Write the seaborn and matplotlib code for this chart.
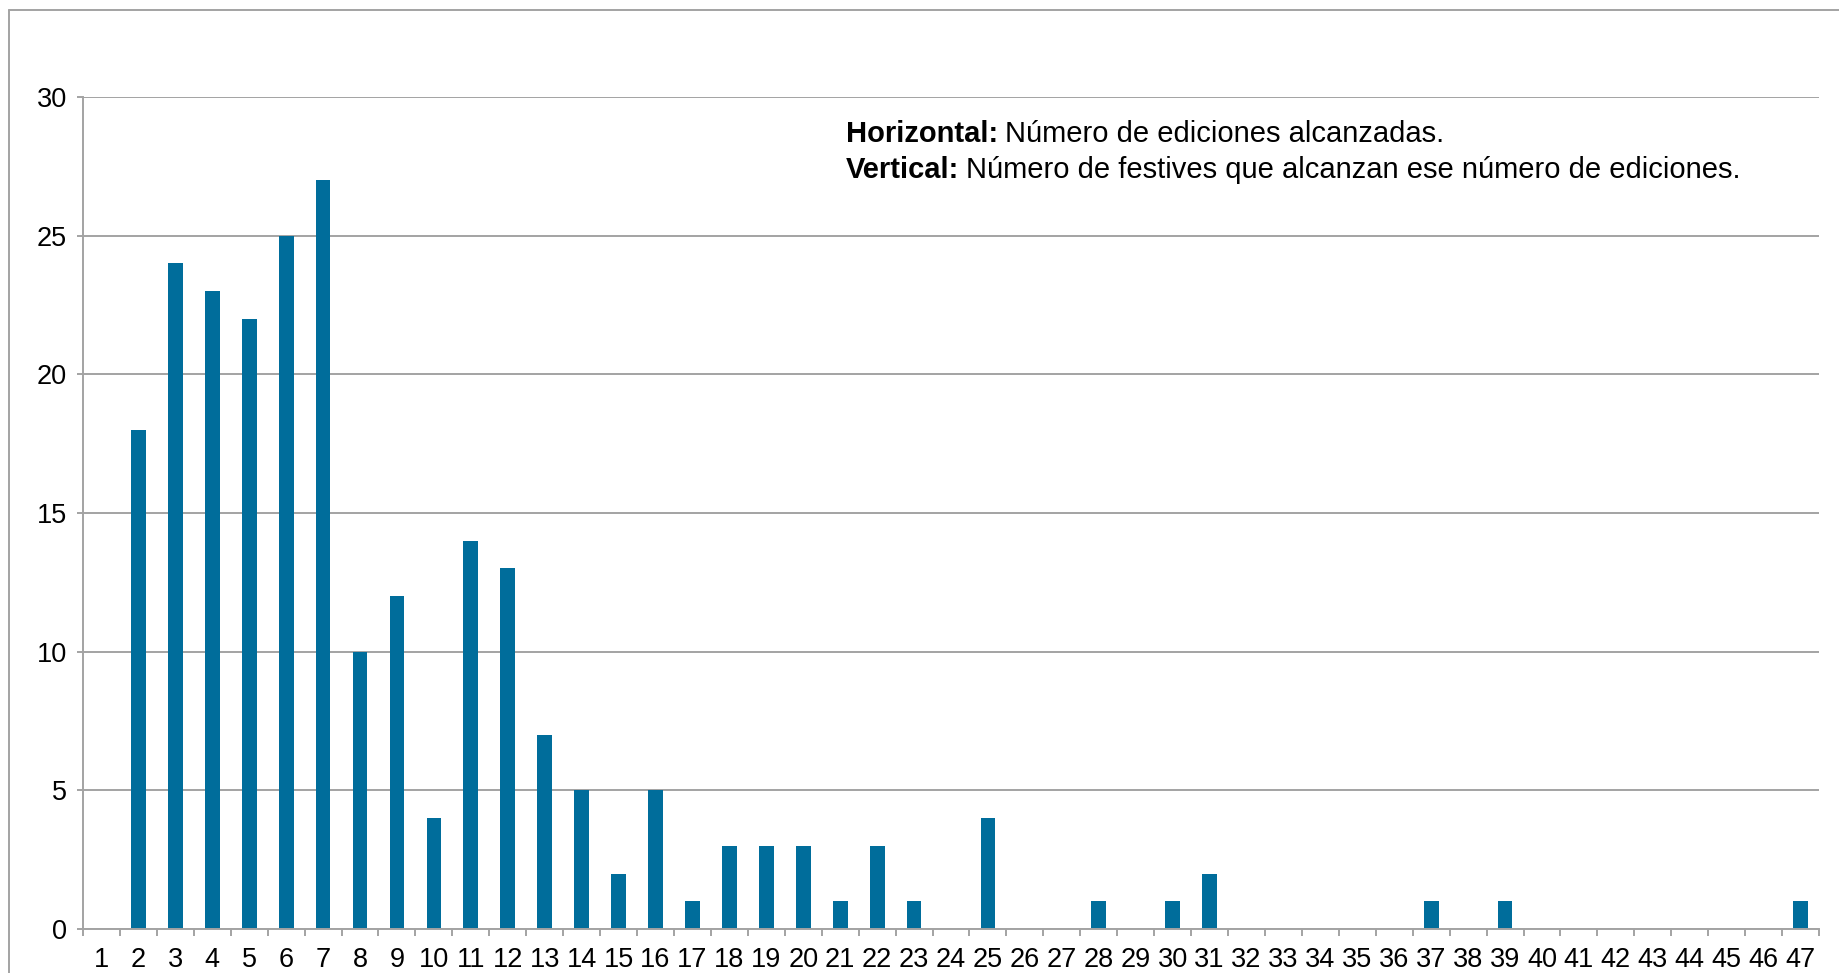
import matplotlib
matplotlib.use("Agg")
import matplotlib.pyplot as plt
import seaborn as sns
import pandas as pd
from matplotlib.lines import Line2D

ediciones = [str(i) for i in range(1, 48)]
festivales = [0, 18, 24, 23, 22, 25, 27, 10, 12, 4, 14, 13, 7, 5, 2, 5, 1, 3, 3, 3,
              1, 3, 1, 0, 4, 0, 0, 1, 0, 1, 2, 0, 0, 0, 0, 0, 1, 0, 1, 0,
              0, 0, 0, 0, 0, 0, 1]
y_ticks = [0, 5, 10, 15, 20, 25, 30]

sns.set_theme(style="white")
plt.rcParams['font.family'] = ['Liberation Sans', 'DejaVu Sans']
plt.rcParams['text.color'] = 'black'

df = pd.DataFrame({"ediciones": ediciones, "festivales": festivales})

fig = plt.figure(figsize=(18.4, 9.73), dpi=100)
ax = fig.add_axes([83/1840, 1-929/973, (1819-83)/1840, (929-97)/973])

sns.barplot(data=df, x="ediciones", y="festivales", order=ediciones,
            color="#006D9B", saturation=1, width=0.4, ax=ax, edgecolor="none")

grid_c = "#a3a3a3"
ax.set_ylim(0, 30)
ax.set_xlim(-0.5, len(ediciones) - 0.5)
ax.set_yticks(y_ticks)
ax.set_yticklabels([str(t) for t in y_ticks])
ax.yaxis.grid(True, color=grid_c, linewidth=1.4)
ax.xaxis.grid(False)
ax.set_axisbelow(True)
ax.set_xlabel("")
ax.set_ylabel("")

for s in ["top", "right"]:
    ax.spines[s].set_visible(False)
for s in ["left", "bottom"]:
    ax.spines[s].set_color(grid_c)
    ax.spines[s].set_linewidth(1.4)

ax.tick_params(axis="y", which="major", left=True, length=4.5, width=1.4,
               color=grid_c, labelsize=19.5, pad=7, labelcolor="black")
ax.tick_params(axis="x", which="major", bottom=False, length=0, labelsize=19.5,
               pad=13, labelcolor="black")
ax.set_xticks([i + 0.5 for i in range(-1, len(ediciones))], minor=True)
ax.tick_params(axis="x", which="minor", bottom=True, length=5, width=1.4, color=grid_c)

fs = 21
t1 = fig.text(846/1840, 1-142/973, "Horizontal:", fontsize=fs, fontweight="bold",
              va="baseline")
fig.canvas.draw()
r = fig.canvas.get_renderer()
bb1 = t1.get_window_extent(renderer=r)
fig.text((bb1.x1 + 7)/1840, 1-142/973, "Número de ediciones alcanzadas.",
         fontsize=fs, va="baseline")
t2 = fig.text(846/1840, 1-178/973, "Vertical:", fontsize=fs, fontweight="bold",
              va="baseline")
bb2 = t2.get_window_extent(renderer=r)
fig.text((bb2.x1 + 7)/1840, 1-178/973,
         "Número de festives que alcanzan ese número de ediciones.",
         fontsize=fs, va="baseline")

# outer chart frame
fx = 9.5/1840
fy = 1 - 9.5/973
fig.add_artist(Line2D([fx, fx], [0, fy], transform=fig.transFigure, color=grid_c, linewidth=1.4))
fig.add_artist(Line2D([fx, 1], [fy, fy], transform=fig.transFigure, color=grid_c, linewidth=1.4))

fig.savefig("out.png", dpi=100, facecolor="white")
